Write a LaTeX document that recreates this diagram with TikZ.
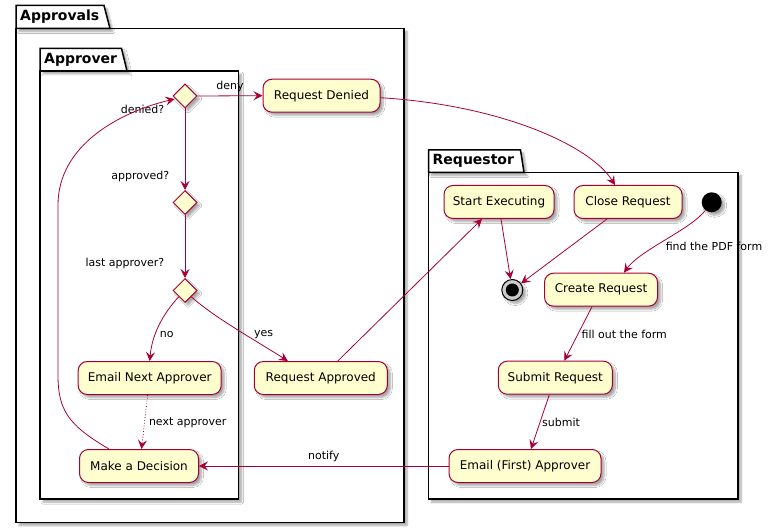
\documentclass[tikz,border=0pt]{standalone}
\usepackage{fontspec}
\setmainfont{DejaVu Sans}
\usetikzlibrary{shapes.geometric,arrows.meta,shadows,shadows.blur,calc}
\definecolor{umlred}{HTML}{A80036}
\definecolor{umlfill}{HTML}{FEFECE}
\tikzset{
  shd/.style={blur shadow={shadow xshift=3pt,shadow yshift=-3pt,shadow blur radius=2pt,shadow blur steps=6,shadow opacity=35}},
  act/.style={draw=umlred,fill=umlfill,line width=1pt,rounded corners=9pt,minimum height=33pt,inner sep=0pt,font=\fontsize{12}{14}\selectfont,shd},
  dec/.style={draw=umlred,fill=umlfill,line width=1pt,diamond,minimum width=24pt,minimum height=24pt,inner sep=0pt,shd},
  lbl/.style={font=\fontsize{11}{13}\selectfont,inner sep=0pt},
  arr/.style={draw=umlred,line width=0.8pt,-{Stealth[length=9pt,width=9pt,inset=3.5pt]}},
  pkg/.style={draw=black,line width=1.5pt,fill=white,shd},
  pkgtitle/.style={font=\bfseries\fontsize{14}{16}\selectfont,inner sep=0pt,anchor=west},
}
\begin{document}
\begin{tikzpicture}[x=1pt,y=-1pt]
\useasboundingbox (0,0) rectangle (771,529);
% packages
\path[pkg] (16,28.5) rectangle (404,522.5);
\path[pkg] (16,28.5) -- (16,5.5) -- (104,5.5) -- (110,28.5) -- cycle;
\node[pkgtitle] (tApprovals) at (20,16.5) {Approvals};
\path[pkg] (40,71) rectangle (238.5,499);
\path[pkg] (40,71) -- (40,48.5) -- (121.5,48.5) -- (127,71) -- cycle;
\node[pkgtitle] (tApprover) at (44,59.5) {Approver};
\path[pkg] (428.5,172.5) rectangle (738,499);
\path[pkg] (428.5,172.5) -- (428.5,150) -- (520.5,150) -- (524,172.5) -- cycle;
\node[pkgtitle] (tRequestor) at (432.5,160.5) {Requestor};
% decisions
\node[dec] (d1) at (185,96) {};
\node[dec] (d2) at (185,202.5) {};
\node[dec] (d3) at (185,290.5) {};
% activities
\node[act,minimum width=117pt] (rd) at (321.5,95.7) {Request Denied};
\node[act,minimum width=143pt] (en) at (149.7,378) {Email Next Approver};
\node[act,minimum width=133pt] (ra) at (320.8,378) {Request Approved};
\node[act,minimum width=119pt] (md) at (139,466) {Make a Decision};
\node[act,minimum width=110pt] (se) at (499,202) {Start Executing};
\node[act,minimum width=108pt] (cr) at (628,202) {Close Request};
\node[act,minimum width=113pt] (cq) at (601,289.7) {Create Request};
\node[act,minimum width=114pt] (sr) at (555.3,377.7) {Submit Request};
\node[act,minimum width=152pt] (ef) at (525,466) {Email (First) Approver};
% start / end
\node[circle,fill=black,minimum size=20pt,inner sep=0pt,shd] (start) at (711.7,202.3) {};
\node[circle,draw=black,fill=black!20,line width=1pt,minimum size=21pt,inner sep=0pt,shd] (stop) at (512.3,290) {};
\node[circle,fill=black,minimum size=13pt,inner sep=0pt] (stopin) at (stop) {};
% labels
\node[lbl,anchor=east] (ldenied) at (164.5,109) {denied?};
\node[lbl,anchor=east] (lapproved) at (169.5,176) {approved?};
\node[lbl,anchor=east] (llast) at (164.5,263) {last approver?};
\node[lbl] (ldeny) at (230,86.5) {deny};
\node[lbl] (lno) at (166.7,334.3) {no};
\node[lbl] (lyes) at (263.7,334.3) {yes};
\node[lbl] (lnext) at (187.7,422.3) {next approver};
\node[lbl] (lnotify) at (323.7,456.3) {notify};
\node[lbl] (lfind) at (714,246) {find the PDF form};
\node[lbl] (lfill) at (624.3,334) {fill out the form};
\node[lbl] (lsubmit) at (561,422.3) {submit};
% connectors
\draw[arr] (d1.south) -- (d2.north);
\draw[arr] (d2.south) -- (d3.north);
\draw[arr] (d1.east) -- (rd.west);
\draw[arr] (d3.south west) .. controls (162,315) and (152,335) .. (en.north);
\draw[arr] (d3.south east) .. controls (215,318) and (255,340) .. ($(ra.north)+(-33,0)$);
\draw[arr,dotted] ($(en.south)+(-2,0)$) -- ($(md.north)+(2.5,0)$);
\draw[arr] ($(md.north)+(-30,0)$) .. controls (68,425) and (58,410) .. (58,375) -- (58,205) .. controls (58,145) and (120,112) .. ($(d1.west)+(2,3)$);
\draw[arr] ($(rd.east)+(0,2)$) .. controls (500,105) and (590,145) .. ($(cr.north)+(-13,0)$);
\draw[arr] ($(ra.north)+(17,0)$) -- ($(se.south)+(-17,0)$);
\draw[arr] ($(se.south)+(2,0)$) -- (stop);
\draw[arr] ($(cr.south)+(-21,0)$) -- (stop);
\draw[arr] (start) .. controls (690,230) and (640,250) .. ($(cq.north)+(23,0)$);
\draw[arr] ($(cq.south)+(-9,0)$) -- ($(sr.north)+(9,0)$);
\draw[arr] ($(sr.south)+(-6,0)$) -- ($(ef.north)+(6,0)$);
\draw[arr] (ef.west) -- (md.east);
\end{tikzpicture}
\end{document}
